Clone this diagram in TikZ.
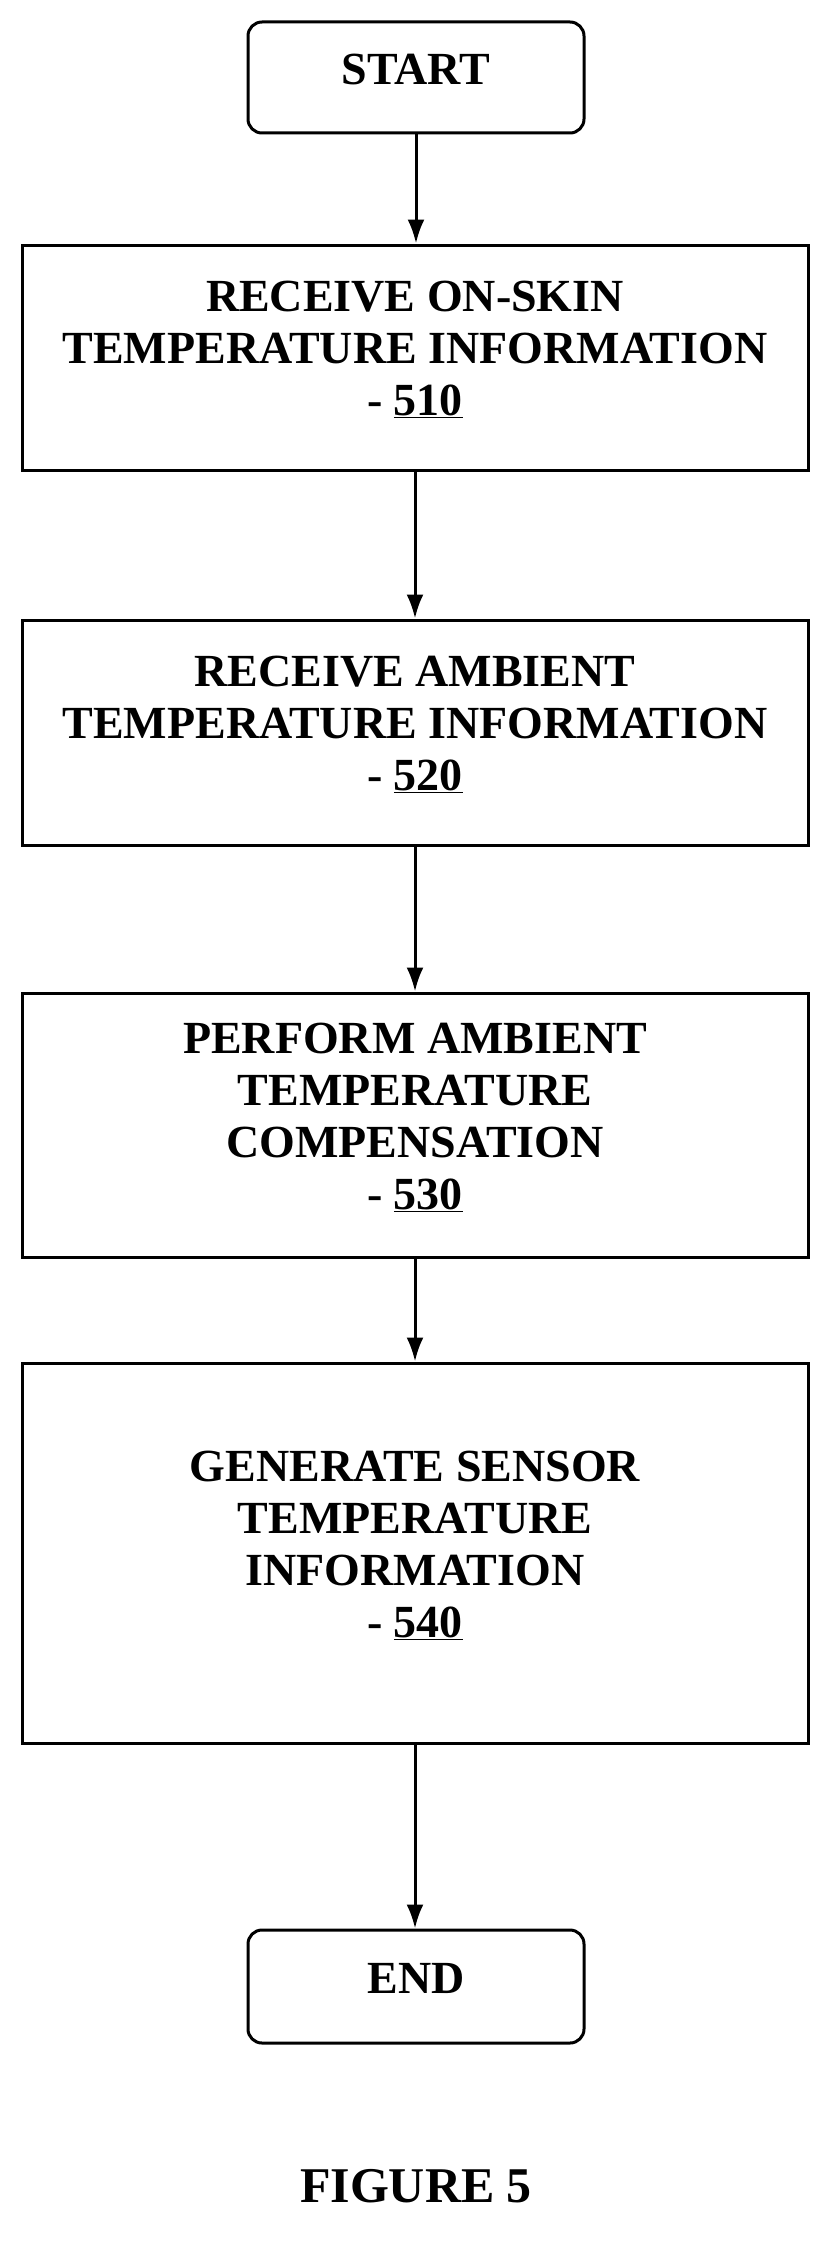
\documentclass[tikz,border=0pt]{standalone}
\usepackage{fontspec}
\setmainfont{Liberation Serif}
\usetikzlibrary{arrows.meta}
\begin{document}
\begin{tikzpicture}[x=1pt,y=-1pt,
  box/.style={draw,line width=3pt},
  term/.style={box,rounded corners=14pt},
  txt/.style={align=center,yshift=8pt,font=\fontsize{46}{52}\selectfont\bfseries},
  arr/.style={-{Latex[length=24pt,width=17pt]},line width=3pt}]
\useasboundingbox (0,0) rectangle (831,2264);
\node[term,minimum width=336pt,minimum height=111pt] (s) at (416,77.5) {};
\node[box,minimum width=786pt,minimum height=225pt] (a) at (415,357.5) {};
\node[box,minimum width=786pt,minimum height=225pt] (b) at (415,732.5) {};
\node[box,minimum width=786pt,minimum height=264pt] (c) at (415,1125) {};
\node[box,minimum width=786pt,minimum height=380pt] (d) at (415,1553) {};
\node[term,minimum width=336pt,minimum height=113pt] (e) at (416,1986.5) {};
\node[txt] (st) at (s) {START};
\node[txt] (at) at (a) {RECEIVE ON-SKIN\\TEMPERATURE INFORMATION\\- \underline{510}};
\node[txt] (bt) at (b) {RECEIVE AMBIENT\\TEMPERATURE INFORMATION\\- \underline{520}};
\node[txt] (ct) at (c) {PERFORM AMBIENT\\TEMPERATURE\\COMPENSATION\\- \underline{530}};
\node[txt] (dt) at (d) {GENERATE SENSOR\\TEMPERATURE\\INFORMATION\\- \underline{540}};
\node[txt] (et) at (e) {END};
\node[font=\fontsize{50}{56}\selectfont\bfseries] (f) at (416,2186) {FIGURE 5};
\draw[arr] (s) -- (s|-a.north);
\draw[arr] (a) -- (a|-b.north);
\draw[arr] (b) -- (b|-c.north);
\draw[arr] (c) -- (c|-d.north);
\draw[arr] (d) -- (d|-e.north);
\end{tikzpicture}
\end{document}
